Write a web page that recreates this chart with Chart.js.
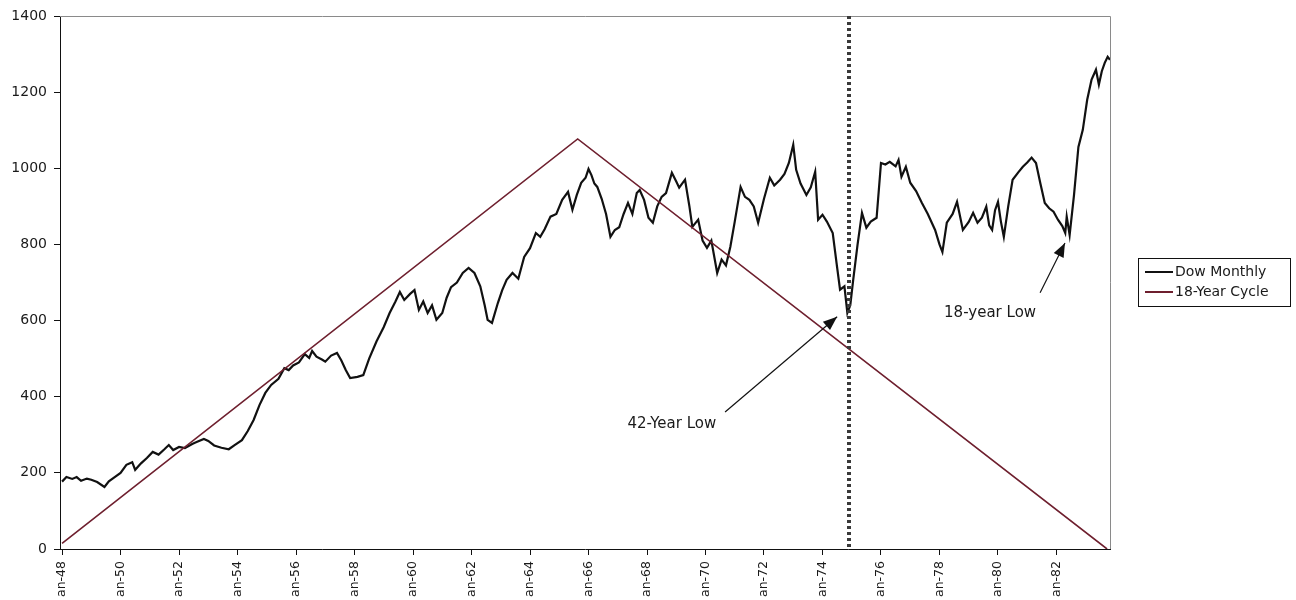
<!DOCTYPE html>
<html>
<head>
<meta charset="utf-8">
<script src="https://cdn.jsdelivr.net/npm/chart.js@4/dist/chart.umd.min.js"></script>
<style>
html,body{margin:0;padding:0;background:#fff;}
#wrap{width:1296px;height:600px;position:relative;}
</style>
</head>
<body>
<div id="wrap"><canvas id="c" width="1296" height="600"></canvas></div>
<script>
// ---- Data ----
const dowYears = [
  1948.0,1948.15,1948.35,1948.5,1948.65,1948.85,1949.0,1949.2,1949.45,1949.6,1949.8,
  1950.0,1950.2,1950.4,1950.5,1950.7,1950.9,1951.1,1951.3,1951.5,1951.65,1951.8,1952.0,1952.2,1952.45,1952.6,1952.85,1953.0,
  1953.2,1953.45,1953.7,1953.9,1954.15,1954.35,1954.55,1954.75,1954.95,1955.15,1955.4,1955.6,1955.75,1955.9,
  1956.1,1956.3,1956.45,1956.55,1956.7,1956.9,1957.0,1957.2,1957.4,1957.55,1957.7,1957.85,1958.1,1958.3,
  1958.5,1958.75,1959.0,1959.2,1959.4,1959.55,1959.7,1959.9,1960.05,1960.2,1960.35,1960.5,1960.65,1960.8,
  1961.0,1961.15,1961.3,1961.5,1961.7,1961.9,1962.1,1962.3,1962.45,1962.55,1962.7,1962.9,1963.05,1963.2,
  1963.4,1963.6,1963.8,1964.0,1964.2,1964.35,1964.5,1964.7,1964.9,1965.1,1965.3,1965.45,1965.6,1965.75,
  1965.9,1966.0,1966.1,1966.2,1966.3,1966.45,1966.6,1966.75,1966.9,1967.05,1967.2,1967.35,1967.5,1967.65,
  1967.75,1967.9,1968.05,1968.2,1968.35,1968.5,1968.65,1968.85,1969.0,1969.1,1969.3,1969.45,1969.55,1969.75,
  1969.9,1970.05,1970.2,1970.4,1970.55,1970.7,1970.85,1971.0,1971.2,1971.35,1971.5,1971.65,1971.8,1972.0,
  1972.2,1972.35,1972.55,1972.7,1972.85,1973.0,1973.1,1973.25,1973.45,1973.6,1973.75,1973.85,1974.0,1974.15,
  1974.35,1974.5,1974.6,1974.75,1974.85,1974.95,1975.05,1975.2,1975.35,1975.5,1975.65,1975.85,1976.0,1976.15,
  1976.3,1976.5,1976.6,1976.7,1976.85,1977.0,1977.2,1977.4,1977.6,1977.85,1978.0,1978.1,1978.25,1978.45,
  1978.6,1978.8,1979.0,1979.15,1979.3,1979.45,1979.6,1979.7,1979.8,1979.9,1980.0,1980.1,1980.2,1980.35,
  1980.5,1980.7,1980.85,1981.0,1981.15,1981.3,1981.45,1981.6,1981.75,1981.9,1982.05,1982.2,1982.3,1982.35,
  1982.45,1982.6,1982.75,1982.9,1983.05,1983.2,1983.35,1983.45,1983.55,1983.65,1983.75,1983.83
];
const dowValues = [
  177,189,184,189,179,185,182,176,163,178,189,
  200,221,228,208,225,239,255,248,262,273,260,268,265,276,281,289,284,
  272,266,262,273,286,310,339,378,410,431,447,475,470,482,
  490,512,502,520,505,497,492,508,515,495,470,449,452,457,
  500,545,583,620,650,675,654,670,680,628,650,620,640,602,
  620,660,688,700,725,738,725,690,640,602,594,646,680,707,
  725,710,767,790,830,820,840,873,880,917,938,891,930,962,
  975,998,982,960,951,920,880,820,838,845,880,909,880,935,
  943,917,870,857,900,925,935,988,965,949,970,900,846,865,
  810,791,810,725,760,745,794,860,951,925,917,900,857,920,
  975,955,970,985,1014,1062,996,960,930,950,991,865,878,860,
  830,740,681,690,620,640,707,800,883,844,860,870,1014,1010,
  1017,1005,1022,978,1004,962,940,909,880,838,800,780,857,880,
  912,838,859,883,857,870,899,850,838,890,912,860,820,900,
  970,990,1004,1015,1028,1014,960,909,895,886,865,848,830,873,
  825,930,1056,1101,1180,1233,1259,1220,1255,1277,1293,1285
];
const cycleYears = [1948.0, 1965.63, 1983.73];
const cycleValues = [15, 1077, 0];

const xTickYears = [1948,1950,1952,1954,1956,1958,1960,1962,1964,1966,1968,1970,1972,1974,1976,1978,1980,1982];
const yMin = 0, yMax = 1400, yStep = 200;

const markerYear = [1974.92];
const noteLabels = ['42-Year Low', '18-year Low'];
const noteTextX = [1968.85, 1979.73];
const noteTextY = [328, 620];
const arrowFromX = [1970.67, 1981.44];
const arrowFromY = [360, 673];
const arrowToX = [1974.5, 1982.29];
const arrowToY = [610, 804];

const seriesNames = ['Dow Monthly', '18-Year Cycle'];
const seriesColors = ['#111111', '#6e1f2e'];

// ---- Plugins ----
const frameLines = {
  id: 'frameLines',
  beforeDatasetsDraw(chart) {
    const {ctx, chartArea: a} = chart;
    ctx.save();
    ctx.strokeStyle = '#8a8a8a';
    ctx.lineWidth = 1;
    ctx.beginPath();
    ctx.moveTo(a.left, a.top + 0.5);
    ctx.lineTo(a.right + 0.5, a.top + 0.5);
    ctx.lineTo(a.right + 0.5, a.bottom);
    ctx.stroke();
    ctx.restore();
  }
};

function drawArrow(ctx, x1, y1, x2, y2) {
  ctx.beginPath();
  ctx.moveTo(x1, y1);
  ctx.lineTo(x2, y2);
  ctx.stroke();
  const ang = Math.atan2(y2 - y1, x2 - x1);
  const L = 14, W = 5.5;
  ctx.beginPath();
  ctx.moveTo(x2, y2);
  ctx.lineTo(x2 - L * Math.cos(ang) + W * Math.sin(ang), y2 - L * Math.sin(ang) - W * Math.cos(ang));
  ctx.lineTo(x2 - L * Math.cos(ang) - W * Math.sin(ang), y2 - L * Math.sin(ang) + W * Math.cos(ang));
  ctx.closePath();
  ctx.fill();
}

const overlays = {
  id: 'overlays',
  afterDatasetsDraw(chart) {
    const {ctx, chartArea: a, scales: {x, y}} = chart;
    ctx.save();
    markerYear.forEach(yr => {
      const px = Math.round(x.getPixelForValue(yr));
      ctx.strokeStyle = '#3a3a3a';
      ctx.lineWidth = 4;
      ctx.setLineDash([3, 3]);
      ctx.beginPath();
      ctx.moveTo(px, a.top);
      ctx.lineTo(px, a.bottom);
      ctx.stroke();
    });
    ctx.setLineDash([]);
    ctx.strokeStyle = '#111';
    ctx.lineWidth = 1.2;
    for (let i = 0; i < noteLabels.length; i++) {
      ctx.fillStyle = '#111';
      drawArrow(ctx,
        x.getPixelForValue(arrowFromX[i]), y.getPixelForValue(arrowFromY[i]),
        x.getPixelForValue(arrowToX[i]), y.getPixelForValue(arrowToY[i]));
      ctx.font = '15px "DejaVu Sans"';
      ctx.textAlign = 'center';
      ctx.textBaseline = 'middle';
      ctx.fillStyle = '#1a1a1a';
      ctx.fillText(noteLabels[i], x.getPixelForValue(noteTextX[i]), y.getPixelForValue(noteTextY[i]));
    }
    ctx.restore();
  }
};

const boxLegend = {
  id: 'boxLegend',
  afterDraw(chart) {
    const {ctx, chartArea: a} = chart;
    const left = a.right + 28;
    const w = 152, h = 48;
    const top = Math.round((a.top + a.bottom) / 2 - h / 2) - 1;
    ctx.save();
    ctx.strokeStyle = '#111';
    ctx.lineWidth = 1;
    ctx.strokeRect(left + 0.5, top + 0.5, w, h);
    ctx.font = '14px "DejaVu Sans"';
    ctx.textAlign = 'left';
    ctx.textBaseline = 'middle';
    chart.data.datasets.forEach((ds, i) => {
      const cy = top + 14 + i * 20;
      ctx.strokeStyle = ds.borderColor;
      ctx.lineWidth = 2;
      ctx.beginPath();
      ctx.moveTo(left + 7, cy);
      ctx.lineTo(left + 35, cy);
      ctx.stroke();
      ctx.fillStyle = '#1a1a1a';
      ctx.fillText(ds.label, left + 37, cy);
    });
    ctx.restore();
  }
};

// ---- Chart ----
const dowPoints = dowYears.map((yr, i) => ({x: yr, y: dowValues[i]}));
const cyclePoints = cycleYears.map((yr, i) => ({x: yr, y: cycleValues[i]}));

new Chart(document.getElementById('c'), {
  type: 'line',
  data: {
    datasets: [
      {label: seriesNames[0], data: dowPoints, borderColor: seriesColors[0], borderWidth: 2.2,
       pointRadius: 0, tension: 0, fill: false, order: 1},
      {label: seriesNames[1], data: cyclePoints, borderColor: seriesColors[1], borderWidth: 1.6,
       pointRadius: 0, tension: 0, fill: false, order: 0}
    ]
  },
  options: {
    responsive: false,
    animation: false,
    devicePixelRatio: 1,
    layout: {padding: {top: 16, right: 186, left: 0, bottom: 0}},
    plugins: {legend: {display: false}, tooltip: {enabled: false}},
    scales: {
      x: {
        type: 'linear',
        min: 1947.93,
        max: 1983.83,
        afterBuildTicks: s => { s.ticks = xTickYears.map(v => ({value: v})); },
        afterFit: s => { s.height = 51; },
        grid: {display: true, drawOnChartArea: false, drawTicks: true, tickLength: 6, color: '#111'},
        border: {display: true, color: '#111', width: 1},
        ticks: {
          autoSkip: false, maxRotation: 90, minRotation: 90, padding: 6,
          color: '#1a1a1a', font: {family: 'DejaVu Sans', size: 12.5},
          callback: v => 'an-' + String(Math.round(v)).slice(2)
        }
      },
      y: {
        min: yMin, max: yMax,
        afterFit: s => { s.width = 60; },
        grid: {display: true, drawOnChartArea: false, drawTicks: true, tickLength: 6, color: '#111'},
        border: {display: true, color: '#111', width: 1},
        ticks: {stepSize: yStep, padding: 7, color: '#1a1a1a', font: {family: 'DejaVu Sans', size: 14},
                callback: v => String(v)}
      }
    }
  },
  plugins: [frameLines, overlays, boxLegend]
});
</script>
</body>
</html>
